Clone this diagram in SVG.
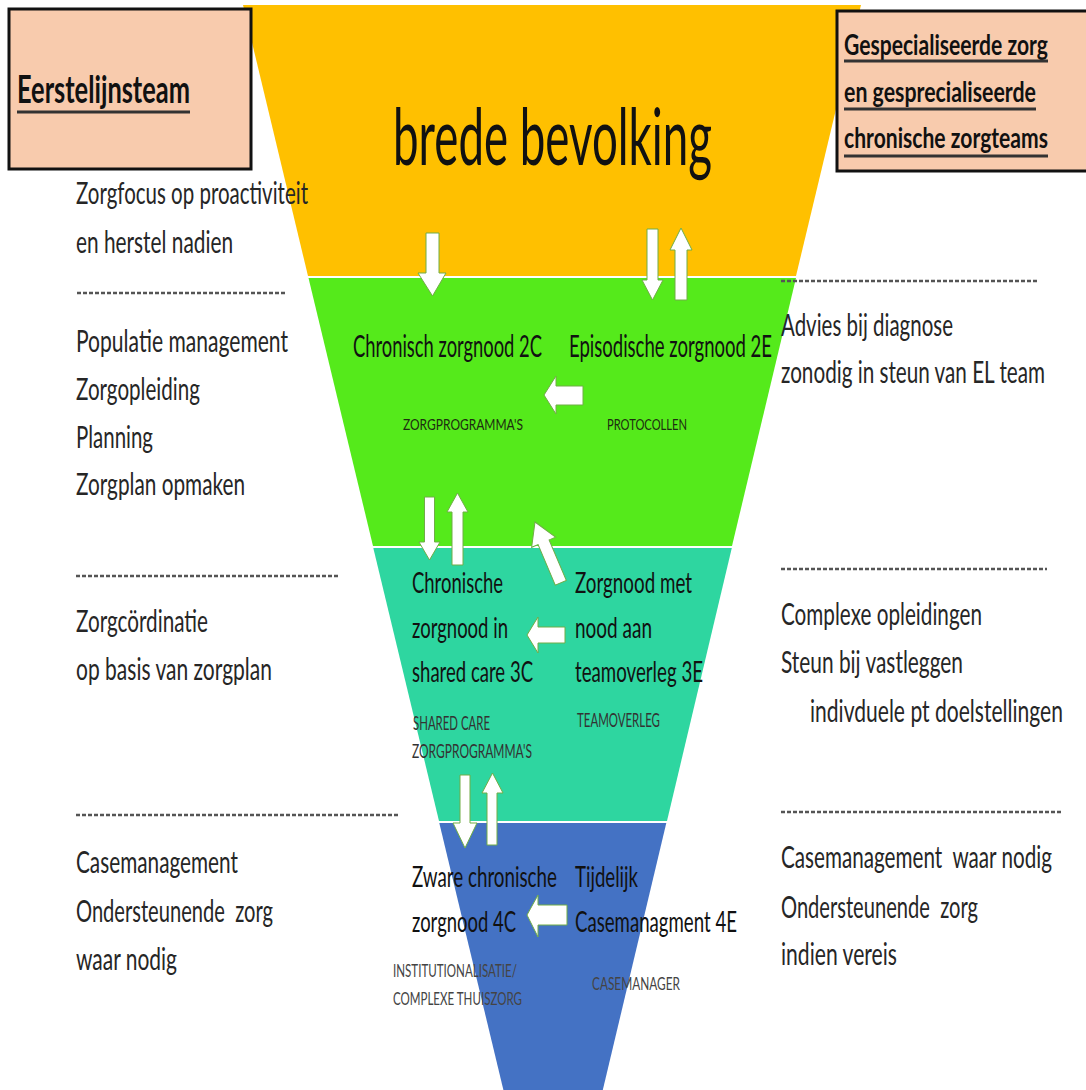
<svg xmlns="http://www.w3.org/2000/svg" width="1086" height="1090" viewBox="0 0 1086 1090">
<style>
  text { font-family: Lato, "Open Sans", "Liberation Sans", sans-serif; }
  .side { font-size: 31px; fill: #262626; }
  .mid { font-size: 30px; fill: #111; }
  .mid2 { font-size: 28px; fill: #111; }
  .lbl-green { font-size: 16px; fill: #1d2d10; }
  .lbl-teal { font-size: 19px; fill: #333; }
  .lbl-blue { font-size: 18px; fill: #444; }
  .title { font-weight: bold; fill: #111; }
  .big { font-size: 80px; fill: #111; }
  .pre { white-space: pre; }
  .box { fill: #F8CBAD; stroke: #111; stroke-width: 3; }
  .uline { stroke: #333; stroke-width: 3; }
  .dash { stroke: #555; stroke-width: 2.5; stroke-dasharray: 4 2; }
  .arrow { fill: #fff; stroke: #70AD47; stroke-width: 1; }
</style>
<rect width="1086" height="1090" fill="#fff"/>

<g id="funnel">
  <polygon id="band-yellow" points="243,5 861,5 796,276 308,276" fill="#FFC000"/>
  <polygon id="band-green" points="308.5,278 796,278 732,546 373,546" fill="#55EA1B"/>
  <polygon id="band-teal" points="373.3,548 731.8,548 667,821 439,821" fill="#2ED6A0"/>
  <polygon id="band-blue" points="439.3,823 666.3,823 602.8,1090 503.4,1090" fill="#4472C4"/>
</g>

<g id="box-eerstelijnsteam">
  <rect class="box" x="9" y="9" width="242" height="160"/>
  <text class="title" font-size="38" transform="translate(17,103) scale(0.7,1)" textLength="247.1" lengthAdjust="spacingAndGlyphs">Eerstelijnsteam</text>
  <line class="uline" x1="17" y1="112" x2="190" y2="112"/>
</g>

<g id="box-gespecialiseerd">
  <rect class="box" x="837" y="11" width="260" height="160"/>
  <text class="title" font-size="28" transform="translate(844,55) scale(0.7,1)" textLength="291.4" lengthAdjust="spacingAndGlyphs">Gespecialiseerde zorg</text>
  <line class="uline" x1="844" y1="61" x2="1048" y2="61"/>
  <text class="title" font-size="28" transform="translate(844,102) scale(0.7,1)" textLength="274.3" lengthAdjust="spacingAndGlyphs">en gesprecialiseerde</text>
  <line class="uline" x1="844" y1="109" x2="1036" y2="109"/>
  <text class="title" font-size="28" transform="translate(844,148) scale(0.7,1)" textLength="291.4" lengthAdjust="spacingAndGlyphs">chronische zorgteams</text>
  <line class="uline" x1="844" y1="156" x2="1048" y2="156"/>
</g>

<g id="level-1">
  <text class="big" transform="translate(393,165) scale(0.6,1)" textLength="531.7" lengthAdjust="spacingAndGlyphs">brede bevolking</text>
  <text class="side" transform="translate(76,204) scale(0.7,1)" textLength="331.4" lengthAdjust="spacingAndGlyphs">Zorgfocus op proactiviteit</text>
  <text class="side" transform="translate(76,253) scale(0.7,1)" textLength="224.3" lengthAdjust="spacingAndGlyphs">en herstel nadien</text>
</g>

<g id="separators">
  <line class="dash" x1="77" y1="293" x2="287" y2="293"/>
  <line class="dash" x1="781" y1="281" x2="1038" y2="281"/>
  <line class="dash" x1="76" y1="576" x2="340" y2="576"/>
  <line class="dash" x1="781" y1="569" x2="1047" y2="569"/>
  <line class="dash" x1="76" y1="815" x2="398" y2="815"/>
  <line class="dash" x1="781" y1="812" x2="1062" y2="812"/>
</g>

<g id="level-2">
  <text class="side" transform="translate(76,352) scale(0.7,1)" textLength="302.9" lengthAdjust="spacingAndGlyphs">Populatie management</text>
  <text class="side" transform="translate(76,400) scale(0.7,1)" textLength="177.1" lengthAdjust="spacingAndGlyphs">Zorgopleiding</text>
  <text class="side" transform="translate(76,448) scale(0.7,1)" textLength="110" lengthAdjust="spacingAndGlyphs">Planning</text>
  <text class="side" transform="translate(76,495) scale(0.7,1)" textLength="241.4" lengthAdjust="spacingAndGlyphs">Zorgplan opmaken</text>
  <text class="side" transform="translate(781,336) scale(0.7,1)" textLength="245.7" lengthAdjust="spacingAndGlyphs">Advies bij diagnose</text>
  <text class="side" transform="translate(781,383) scale(0.7,1)" textLength="377.1" lengthAdjust="spacingAndGlyphs">zonodig in steun van EL team</text>
  <g id="node-2C">
    <text class="mid" transform="translate(353,357) scale(0.7,1)" textLength="270" lengthAdjust="spacingAndGlyphs">Chronisch zorgnood 2C</text>
    <text class="lbl-green" transform="translate(403,430) scale(0.8,1)" textLength="150" lengthAdjust="spacingAndGlyphs">ZORGPROGRAMMA'S</text>
  </g>
  <g id="node-2E">
    <text class="mid" transform="translate(569,357) scale(0.7,1)" textLength="290" lengthAdjust="spacingAndGlyphs">Episodische zorgnood 2E</text>
    <text class="lbl-green" transform="translate(607,430) scale(0.8,1)" textLength="100" lengthAdjust="spacingAndGlyphs">PROTOCOLLEN</text>
  </g>
</g>

<g id="level-3">
  <text class="side" transform="translate(76,632) scale(0.7,1)" textLength="188.6" lengthAdjust="spacingAndGlyphs">Zorgcördinatie</text>
  <text class="side" transform="translate(76,680) scale(0.7,1)" textLength="280" lengthAdjust="spacingAndGlyphs">op basis van zorgplan</text>
  <text class="side" transform="translate(781,625) scale(0.7,1)" textLength="287.1" lengthAdjust="spacingAndGlyphs">Complexe opleidingen</text>
  <text class="side" transform="translate(781,673) scale(0.7,1)" textLength="260" lengthAdjust="spacingAndGlyphs">Steun bij vastleggen</text>
  <text class="side" transform="translate(810,722) scale(0.7,1)" textLength="361.4" lengthAdjust="spacingAndGlyphs">indivduele pt doelstellingen</text>
  <g id="node-3C">
    <text class="mid2" transform="translate(412,593) scale(0.7,1)" textLength="130" lengthAdjust="spacingAndGlyphs">Chronische</text>
    <text class="mid2" transform="translate(412,638) scale(0.7,1)" textLength="137.1" lengthAdjust="spacingAndGlyphs">zorgnood in</text>
    <text class="mid2" transform="translate(412,682) scale(0.7,1)" textLength="172.9" lengthAdjust="spacingAndGlyphs">shared care 3C</text>
    <text class="lbl-teal" transform="translate(413,730) scale(0.8,1)" textLength="96.25" lengthAdjust="spacingAndGlyphs">SHARED CARE</text>
    <text class="lbl-teal" transform="translate(412,758) scale(0.8,1)" textLength="150" lengthAdjust="spacingAndGlyphs">ZORGPROGRAMMA'S</text>
  </g>
  <g id="node-3E">
    <text class="mid2" transform="translate(575,593) scale(0.7,1)" textLength="167.1" lengthAdjust="spacingAndGlyphs">Zorgnood met</text>
    <text class="mid2" transform="translate(575,638) scale(0.7,1)" textLength="110" lengthAdjust="spacingAndGlyphs">nood aan</text>
    <text class="mid2" transform="translate(575,682) scale(0.7,1)" textLength="182.9" lengthAdjust="spacingAndGlyphs">teamoverleg 3E</text>
    <text class="lbl-teal" transform="translate(577,727) scale(0.8,1)" textLength="103.75" lengthAdjust="spacingAndGlyphs">TEAMOVERLEG</text>
  </g>
</g>

<g id="level-4">
  <text class="side" transform="translate(76,873) scale(0.7,1)" textLength="231.4" lengthAdjust="spacingAndGlyphs">Casemanagement</text>
  <text class="side pre" transform="translate(76,922) scale(0.7,1)" textLength="281.4" lengthAdjust="spacingAndGlyphs">Ondersteunende  zorg</text>
  <text class="side" transform="translate(76,970) scale(0.7,1)" textLength="144.3" lengthAdjust="spacingAndGlyphs">waar nodig</text>
  <text class="side pre" transform="translate(781,868) scale(0.7,1)" textLength="387.1" lengthAdjust="spacingAndGlyphs">Casemanagement  waar nodig</text>
  <text class="side pre" transform="translate(781,918) scale(0.7,1)" textLength="281.4" lengthAdjust="spacingAndGlyphs">Ondersteunende  zorg</text>
  <text class="side" transform="translate(781,965) scale(0.7,1)" textLength="165.7" lengthAdjust="spacingAndGlyphs">indien vereis</text>
  <g id="node-4C">
    <text class="mid2" transform="translate(412,887) scale(0.7,1)" textLength="207.1" lengthAdjust="spacingAndGlyphs">Zware chronische</text>
    <text class="mid2" transform="translate(412,932) scale(0.7,1)" textLength="148.6" lengthAdjust="spacingAndGlyphs">zorgnood 4C</text>
    <text class="lbl-blue" transform="translate(393,977) scale(0.8,1)" textLength="155" lengthAdjust="spacingAndGlyphs">INSTITUTIONALISATIE/</text>
    <text class="lbl-blue" transform="translate(393,1005) scale(0.8,1)" textLength="161.25" lengthAdjust="spacingAndGlyphs">COMPLEXE THUISZORG</text>
  </g>
  <g id="node-4E">
    <text class="mid2" transform="translate(575,887) scale(0.7,1)" textLength="90" lengthAdjust="spacingAndGlyphs">Tijdelijk</text>
    <text class="mid2" transform="translate(575,932) scale(0.7,1)" textLength="231.4" lengthAdjust="spacingAndGlyphs">Casemanagment 4E</text>
    <text class="lbl-blue" transform="translate(592,990) scale(0.8,1)" textLength="110" lengthAdjust="spacingAndGlyphs">CASEMANAGER</text>
  </g>
</g>

<g id="connectors">
  <path class="arrow" d="M426,233 H439 V273 H446 L432.5,296 L418,273 H426 Z"/>
  <path class="arrow" d="M647,229 H658 V280 H663 L652.5,300 L642,280 H647 Z"/>
  <path class="arrow" d="M675,300 V250 H670 L681,228 L692,250 H687 V300 Z"/>
  <path class="arrow" d="M583,386 H556 V376 L544,395 L556,414 V405 H583 Z"/>
  <path class="arrow" d="M424.5,497 H434.5 V542 H440 L429.5,560 L419,542 H424.5 Z"/>
  <path class="arrow" d="M452,565 V512 H447 L457.5,493 L468,512 H463 V565 Z"/>
  <path class="arrow" transform="translate(535,522) rotate(-23)" d="M-6,66 V22 H-13 L0,0 L13,22 H6 V66 Z"/>
  <path class="arrow" d="M565,627 H538 V617 L527,635 L538,653 V643 H565 Z"/>
  <path class="arrow" d="M460,775 H470 V823 H477 L465,848 L453,823 H460 Z"/>
  <path class="arrow" d="M487,845 V793 H482 L492.5,773 L503,793 H497 V845 Z"/>
  <path class="arrow" d="M567,905 H538 V895 L527,915 L538,937 V925 H567 Z"/>
</g>
</svg>
